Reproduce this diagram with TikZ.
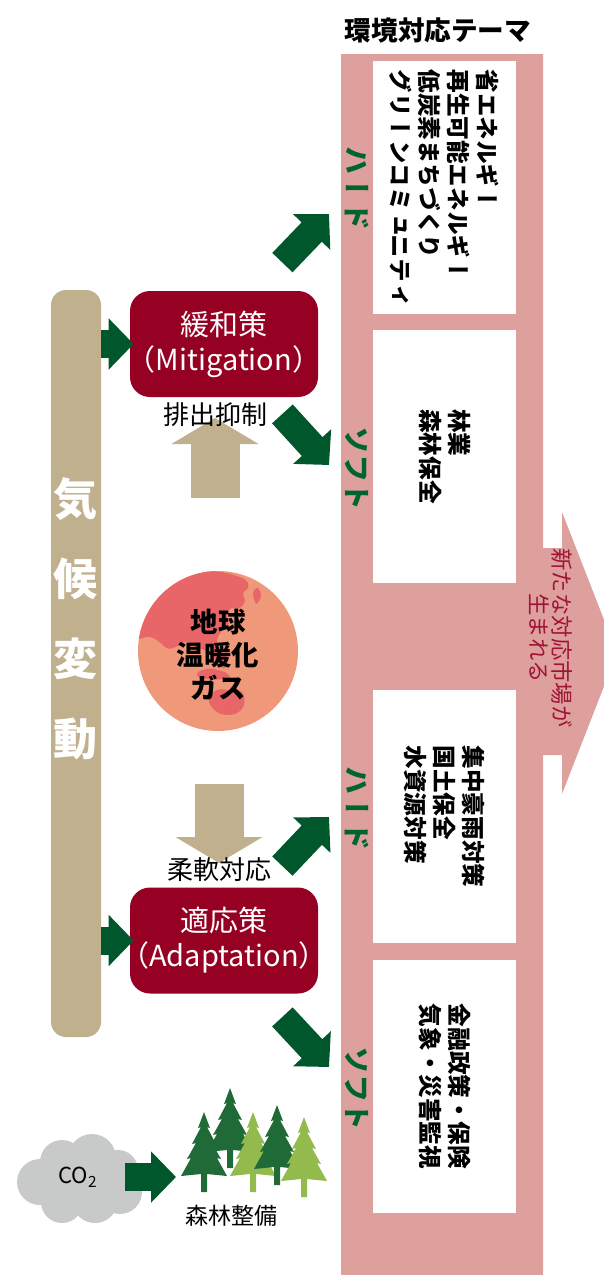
\documentclass[tikz,border=0pt]{standalone}
\usepackage{fontspec}
\usetikzlibrary{arrows.meta,positioning}
\setmainfont{Noto Sans CJK JP}
\newfontfamily\tate[Vertical=RotatedGlyphs]{Noto Sans CJK JP}

\definecolor{bandpink}{RGB}{222,160,156}
\definecolor{policyred}{RGB}{150,0,35}
\definecolor{khaki}{RGB}{192,176,142}
\definecolor{arrowgreen}{RGB}{0,87,44}
\definecolor{labelgreen}{RGB}{0,100,48}
\definecolor{marketred}{RGB}{160,20,55}
\definecolor{globesea}{RGB}{240,152,122}
\definecolor{globeland}{RGB}{232,102,104}
\definecolor{cloudgray}{RGB}{200,201,201}
\definecolor{pinedark}{RGB}{32,106,56}
\definecolor{pinelight}{RGB}{146,186,76}

\pgfdeclarelayer{background}
\pgfsetlayers{background,main}

% full-width brackets without their outer blank
\newcommand\paren[1]{{\kern-.5em（}#1{）\kern-.5em}}

\tikzset{
  theme/.style={fill=white, rotate=-90, minimum width=126.5pt, minimum height=71.5pt,
    inner sep=0pt, align=left, font=\tate\bfseries\fontsize{11.8}{14.5}\selectfont},
  side/.style={rotate=-90, text=labelgreen, inner sep=0pt,
    font=\tate\bfseries\fontsize{14}{16}\selectfont},
  policy/.style={fill=policyred, rounded corners=10pt, minimum width=94pt, minimum height=53pt,
    text=white, align=center, inner sep=0pt, font=\fontsize{14.5}{17.5}\selectfont},
  note/.style={inner sep=0pt, font=\fontsize{13}{15}\selectfont},
  push/.style={line width=14pt, arrowgreen, -{Triangle[length=12.5pt,width=25pt]}},
  flow/.style={line width=24.5pt, khaki, -{Triangle[length=13pt,width=43pt]}},
  pics/pine/.style={code={
    \fill (0,0) -- (6,16) -- (3,15) -- (12,32) -- (8,31) -- (17,47) -- (13,46) -- (23,64)
      -- (3,62) -- (3,80) -- (-3,80) -- (-3,62) -- (-23,64) -- (-13,46) -- (-17,47)
      -- (-8,31) -- (-12,32) -- (-3,15) -- (-6,16) -- cycle;
  }},
}

\begin{document}
\begin{tikzpicture}[x=0.5pt, y=-0.5pt]
\useasboundingbox (0,0) rectangle (604,1275);
\clip (0,0) rectangle (604,1275);

% theme band and the market arrow
\fill[bandpink] (341,54) -- (543,54) -- (543,548) -- (562,548) -- (562,512) -- (617,653)
  -- (562,794) -- (562,755) -- (543,755) -- (543,1280) -- (341,1280) -- cycle;
\node[font=\bfseries\fontsize{13.3}{15}\selectfont] (title) at (438,30) {環境対応テーマ};

\node[theme] (energy) at (444.5,187.5) {省エネルギー\\再生可能エネルギー\\低炭素まちづくり\\グリーンコミュニティ};
\node[theme] (forestry) at (444.5,456.5) {林業\\森林保全};
\node[theme] (water) at (444.5,816.5) {集中豪雨対策\\国土保全\\水資源対策};
\node[theme] (finance) at (444.5,1086.5) {金融政策・保険\\気象・災害監視};

\node[side] (hard1) at (357,188) {ハード};
\node[side] (soft1) at (357,468) {ソフト};
\node[side] (hard2) at (357,808) {ハード};
\node[side] (soft2) at (357,1088) {ソフト};

\node[rotate=-90, align=center, text=marketred, inner sep=0pt,
  font=\tate\fontsize{11.2}{11.6}\selectfont] (market) at (551,638) {新たな対応市場が\\生まれる};

% climate change bar
\node[fill=khaki, rounded corners=7.5pt, minimum width=25pt, minimum height=373.5pt] (climate) at (76,663.5) {};
\node[text=white, align=center, inner sep=0pt, font=\bfseries\fontsize{22}{40}\selectfont] (climatetext) at (76,619) {気\\候\\変\\動};

% mitigation / adaptation
\node[policy] (mit) at (224,344) {緩和策\\\paren{Mitigation}};
\node[policy] (adp) at (224,940.5) {適応策\\\paren{Adaptation}};

\draw[push] (climate.east |- mit) -- ([xshift=2pt]mit.west);
\draw[push] (climate.east |- adp) -- ([xshift=2pt]adp.west);
\draw[push] ([shift={(-36,-28)}]mit.north east) -- ([shift={(-28,26)}]hard1.center);
\draw[push] ([shift={(-36,16.5)}]mit.south east) -- ([shift={(-28,-3)}]soft1.center);
\draw[push] ([shift={(-36,-21)}]adp.north east) -- ([shift={(-28,9)}]hard2.center);
\draw[push] ([shift={(-36,23)}]adp.south east) -- ([shift={(-28,-21)}]soft2.center);

% greenhouse gas globe
\fill[globesea] (218,651) circle (80);
\begin{scope}
  \clip (218,651) circle (80);
  \fill[globeland, rounded corners=2pt] (135,606) -- (150,596) -- (165,588) -- (180,580)
    -- (196,573) -- (212,571) -- (228,573) -- (246,579) -- (250,588) -- (242,592)
    -- (246,602) -- (238,610) -- (232,606) -- (226,614) -- (230,624) -- (222,630)
    -- (216,640) -- (222,652) -- (229,664) -- (224,670) -- (214,660) -- (206,650)
    -- (196,648) -- (188,640) -- (178,646) -- (168,650) -- (160,642) -- (150,636)
    -- (135,640) -- cycle;
  \fill[globeland, rounded corners=2pt] (196,672) -- (210,668) -- (226,672) -- (232,678)
    -- (214,680) -- (198,678) -- cycle;
  \fill[globeland, rounded corners=3pt] (207,700) -- (212,692) -- (222,688) -- (232,692)
    -- (240,688) -- (246,700) -- (241,712) -- (228,716) -- (215,712) -- cycle;
  \fill[globeland, rounded corners=2pt] (252,592) -- (258,586) -- (262,596) -- (256,606) -- cycle;
\end{scope}
\node[align=center, inner sep=0pt, font=\bfseries\fontsize{13.7}{16.5}\selectfont] (globe) at (218,655) {地球\\温暖化\\ガス};

\node[note] (cut) at (215,415) {排出抑制};
\node[note] (flex) at (219,870) {柔軟対応};
\begin{pgfonlayer}{background}
  \draw[flow] ([yshift=-41.5pt]cut.center) -- ([yshift=-1.5pt]cut.center);
  \draw[flow] ([yshift=43pt]flex.center) -- ([yshift=3.5pt]flex.center);
\end{pgfonlayer}

% CO2 cloud
\fill[cloudgray] (40,1182) circle (23) (62,1162) circle (22) (92,1158) circle (24)
  (118,1170) circle (20) (120,1192) circle (22) (95,1200) circle (23)
  (62,1202) circle (21) (80,1180) circle (30);
\node[inner sep=0pt, font=\fontsize{11}{13}\selectfont] (co2) at (78,1177) {CO\textsubscript{2}};

% forest
\pic[pinedark] at (230,1088) {pine};
\pic[pinedark] at (204,1112) {pine};
\pic[pinelight] at (253,1112) {pine};
\pic[pinedark] at (277,1105) {pine};
\pic[pinelight] at (304,1117) {pine};
\node[inner sep=0pt, font=\fontsize{11.5}{13}\selectfont] (trees) at (231,1216) {森林整備};

\draw[push] ([xshift=23.5pt]co2.center) -- ([xshift=49pt]co2.center);
\end{tikzpicture}
\end{document}
